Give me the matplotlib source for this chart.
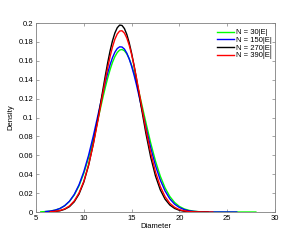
#!/usr/bin/env python3

import numpy as np
import matplotlib as mpl
mpl.use('Agg')
import matplotlib.pyplot as plt

# global plot style
mpl.rcParams['font.family'] = ['Liberation Sans', 'DejaVu Sans']
mpl.rcParams['font.size'] = 5.5

nan = np.nan

# diameter grid (shared by all curves), finer around the peak
diameter = [5.5, 6.0, 6.5, 7.0, 7.5, 8.0, 8.5, 9.0, 9.5, 10.0, 10.5, 11.0,
            11.5, 12.0, 12.25, 12.5, 12.75, 13.0, 13.25, 13.5, 13.75, 14.0,
            14.25, 14.5, 14.75, 15.0, 15.25, 15.5, 15.75, 16.0, 16.5,
            17.0, 17.5, 18.0, 18.5, 19.0, 19.5, 20.0, 20.5, 21.0, 21.5, 22.0,
            22.5, 23.0, 23.5, 24.0, 24.5, 25.0, 25.5, 26.0, 26.5, 27.0, 27.5,
            28.0]

# density, one list per N
dens_30 = [0.0002, 0.0005, 0.0010, 0.0020, 0.0037, 0.0066, 0.0112, 0.0180,
           0.0278, 0.0409, 0.0575, 0.0772, 0.0990, 0.1212, 0.1318, 0.1417,
           0.1506, 0.1583, 0.1644, 0.1688, 0.1714, 0.1720, 0.1706, 0.1673,
           0.1622, 0.1554, 0.1472, 0.1379, 0.1276, 0.1168, 0.0945, 0.0730,
           0.0539, 0.0380, 0.0256, 0.0164, 0.0101, 0.0059, 0.0033, 0.0018,
           0.0009, 0.0004, 0.0002, 0.0001, 0.0, 0.0, 0.0, 0.0, 0.0, 0.0,
           0.0, 0.0, 0.0, 0.0]
dens_150 = [nan, 0.0005, 0.0010, 0.0020, 0.0037, 0.0067, 0.0114, 0.0186,
            0.0288, 0.0426, 0.0600, 0.0807, 0.1034, 0.1263, 0.1371, 0.1471,
            0.1559, 0.1633, 0.1691, 0.1730, 0.1748, 0.1746, 0.1724, 0.1681,
            0.1620, 0.1543, 0.1452, 0.1350, 0.1240, 0.1126, 0.0896, 0.0680,
            0.0491, 0.0339, 0.0223, 0.0139, 0.0083, 0.0048, 0.0026, 0.0013,
            0.0007, 0.0003, 0.0001, 0.0, 0.0, 0.0, 0.0, 0.0, 0.0, 0.0,
            nan, nan, nan, nan]
dens_270 = [nan, nan, 0.0003, 0.0006, 0.0013, 0.0029, 0.0057, 0.0108,
            0.0190, 0.0316, 0.0494, 0.0725, 0.0999, 0.1296, 0.1442, 0.1580,
            0.1705, 0.1811, 0.1894, 0.1950, 0.1978, 0.1974, 0.1941, 0.1879,
            0.1791, 0.1681, 0.1553, 0.1414, 0.1267, 0.1117, 0.0830, 0.0580,
            0.0381, 0.0235, 0.0136, 0.0074, 0.0038, 0.0018, 0.0008, 0.0004,
            0.0001, 0.0, 0.0, 0.0, nan, nan, nan, nan, nan, nan,
            nan, nan, nan, nan]
dens_390 = [nan, nan, 0.0003, 0.0007, 0.0016, 0.0033, 0.0064, 0.0117,
            0.0201, 0.0325, 0.0498, 0.0720, 0.0980, 0.1260, 0.1397, 0.1528,
            0.1645, 0.1747, 0.1828, 0.1884, 0.1915, 0.1918, 0.1893, 0.1841,
            0.1765, 0.1667, 0.1552, 0.1424, 0.1288, 0.1148, 0.0872, 0.0626,
            0.0423, 0.0270, 0.0163, 0.0092, 0.0050, 0.0025, 0.0012, 0.0005,
            0.0002, 0.0001, 0.0, 0.0, 0.0, nan, nan, nan, nan, nan,
            nan, nan, nan, nan]

labels = ['N = 30|E|', 'N = 150|E|', 'N = 270|E|', 'N = 390|E|']
colors = ['#00ff00', '#0000ff', '#000000', '#ff0000']

xticks = [5, 10, 15, 20, 25, 30]
yticks = [0, 0.02, 0.04, 0.06, 0.08, 0.1, 0.12, 0.14, 0.16, 0.18, 0.2]
yticklabels = ['0', '0.02', '0.04', '0.06', '0.08', '0.1', '0.12', '0.14',
               '0.16', '0.18', '0.2']

fig = plt.figure(figsize=(2.99, 2.44), dpi=100)
ax = fig.add_axes([0.1204, 0.1311, 0.7993, 0.7746])

for dens, lab, col in zip([dens_30, dens_150, dens_270, dens_390], labels, colors):
    ax.plot(diameter, dens, color=col, linewidth=1.0, label=lab)

ax.set_xlim(5, 30)
ax.set_ylim(0, 0.2)
ax.set_xticks(xticks)
ax.set_yticks(yticks)
ax.set_yticklabels(yticklabels)
ax.tick_params(direction='in', length=2.5, width=0.5, color='#808080',
               top=True, right=True, labelsize=5.5, pad=2)
for sp in ax.spines.values():
    sp.set_color('#808080')
    sp.set_linewidth(0.6)

ax.set_xlabel('Diameter', fontsize=5.5, labelpad=1)
ax.set_ylabel('Density', fontsize=5.5, labelpad=3)

# legend sits slightly lower than the default corner
leg = ax.legend(loc='upper right', bbox_to_anchor=(1.0, 0.985), frameon=False,
                fontsize=5.5, handlelength=2.2, handletextpad=0.3,
                labelspacing=0.05, borderaxespad=0.2, borderpad=0.2)

fig.savefig('out.png', dpi=100)
